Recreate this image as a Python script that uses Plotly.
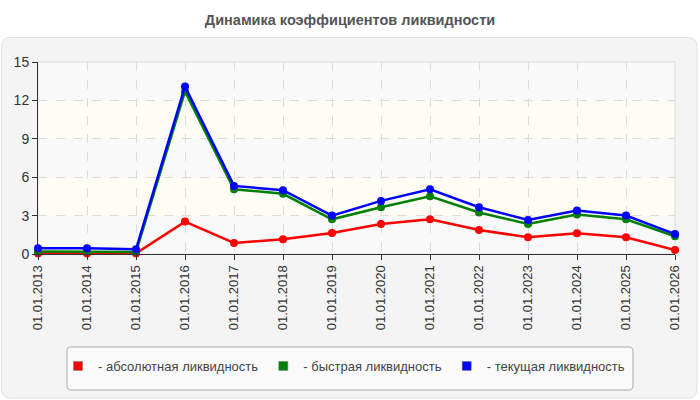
import plotly.graph_objects as go

categories = ["01.01.2013", "01.01.2014", "01.01.2015", "01.01.2016", "01.01.2017",
              "01.01.2018", "01.01.2019", "01.01.2020", "01.01.2021", "01.01.2022",
              "01.01.2023", "01.01.2024", "01.01.2025", "01.01.2026"]
absolute = [0.05, 0.05, 0.05, 2.53, 0.86, 1.15, 1.64, 2.35, 2.71, 1.88, 1.30, 1.62, 1.30, 0.31]
quick = [0.2, 0.2, 0.16, 12.7, 5.06, 4.70, 2.71, 3.65, 4.51, 3.24, 2.35, 3.08, 2.71, 1.38]
current = [0.45, 0.45, 0.37, 13.09, 5.32, 4.98, 3.00, 4.15, 5.06, 3.65, 2.66, 3.39, 3.00, 1.56]
series_names = ["- абсолютная ликвидность", "- быстрая ликвидность", "- текущая ликвидность"]
series_colors = ["#ff0000", "#008000", "#0000ff"]
y_ticks = [0, 3, 6, 9, 12, 15]
title_text = "Динамика коэффициентов ликвидности"

FONT = "Liberation Sans, Arial, sans-serif"
W, H = 700, 400
L, R, T, B = 38, 675, 62, 254  # plot area in pixels


def px2x(px):
    return (px - L) / (R - L)


def py2y(py):
    return (B - py) / (B - T)


def rounded_rect(x0, y0, x1, y1, r):
    pts = [
        ("M", (x0 + r, y0)), ("L", (x1 - r, y0)), ("Q", (x1, y0), (x1, y0 + r)),
        ("L", (x1, y1 - r)), ("Q", (x1, y1), (x1 - r, y1)),
        ("L", (x0 + r, y1)), ("Q", (x0, y1), (x0, y1 - r)),
        ("L", (x0, y0 + r)), ("Q", (x0, y0), (x0 + r, y0)),
    ]
    out = []
    for p in pts:
        cmd = p[0]
        coords = " ".join(f"{px2x(a):.5f},{py2y(b):.5f}" for a, b in p[1:])
        out.append(f"{cmd} {coords}")
    return " ".join(out) + " Z"


fig = go.Figure()

for vals, name, col in zip([absolute, quick, current], series_names, series_colors):
    fig.add_trace(go.Scatter(
        x=categories, y=vals, mode="lines+markers", name=name,
        line=dict(color=col, width=2.5),
        marker=dict(color=col, size=8),
        cliponaxis=False, showlegend=False,
    ))

for name, col in zip(series_names, series_colors):
    fig.add_trace(go.Scatter(
        x=[None], y=[None], mode="markers", name=name,
        marker=dict(symbol="square", size=9, color=col, line=dict(color="#777777", width=0.5)),
        showlegend=True,
    ))

shapes = [
    dict(type="path", xref="paper", yref="paper", path=rounded_rect(1.5, 37.5, 697, 398, 9),
         fillcolor="#f4f4f4", line=dict(color="#e2e2e2", width=1), layer="below"),
]
band_colors = ["#f9f9f9", "#fdfdf6", "#f9f9f9", "#fdfdf6", "#f9f9f9"]
for i, c in enumerate(band_colors):
    shapes.append(dict(type="rect", xref="paper", yref="y", x0=0, x1=1,
                       y0=y_ticks[i], y1=y_ticks[i + 1], fillcolor=c,
                       line=dict(width=0), layer="below"))
shapes.append(dict(type="path", xref="paper", yref="paper", path=rounded_rect(67, 347, 633, 390, 4),
                   fillcolor="#fafafa", line=dict(color="#aaaaaa", width=1), layer="below"))
shapes.append(dict(type="rect", xref="paper", yref="paper", x0=0, x1=1, y0=0, y1=1,
                   line=dict(color="#dddddd", width=1), fillcolor="rgba(0,0,0,0)", layer="below"))

fig.update_layout(
    width=W, height=H,
    margin=dict(l=L, r=W - R, t=T, b=H - B),
    paper_bgcolor="#ffffff",
    plot_bgcolor="#fbfbf8",
    font=dict(family=FONT, size=13, color="#333333"),
    title=dict(text=f"<b>{title_text}</b>", x=0.5, xanchor="center",
               y=1 - 20 / H, yanchor="middle", yref="container",
               font=dict(family=FONT, size=14.5, color="#555555")),
    shapes=shapes,
    showlegend=True,
    legend=dict(orientation="h", x=px2x(58), xanchor="left", y=py2y(366), yanchor="middle",
                bgcolor="rgba(0,0,0,0)", borderwidth=0,
                font=dict(family=FONT, size=13, color="#444444"), itemclick=False),
)

fig.update_xaxes(
    type="category", range=[0, len(categories) - 1],
    showgrid=True, gridcolor="#dcdcdc", griddash="dash", gridwidth=1,
    showline=True, linecolor="#333333", linewidth=1,
    ticks="outside", ticklen=5, tickcolor="#333333",
    tickangle=-90, tickfont=dict(family=FONT, size=13, color="#333333"),
    zeroline=False, fixedrange=True,
)
fig.update_yaxes(
    range=[0, 15], tickvals=y_ticks,
    showgrid=True, gridcolor="#dcdcdc", griddash="dash", gridwidth=1,
    showline=True, linecolor="#333333", linewidth=1,
    ticks="outside", ticklen=5, tickcolor="#333333",
    tickfont=dict(family=FONT, size=14, color="#333333"),
    zeroline=False, fixedrange=True,
)

fig.write_html("out.html", config={"displayModeBar": False},
               post_script="document.body.style.margin='0';document.body.style.padding='0';")
